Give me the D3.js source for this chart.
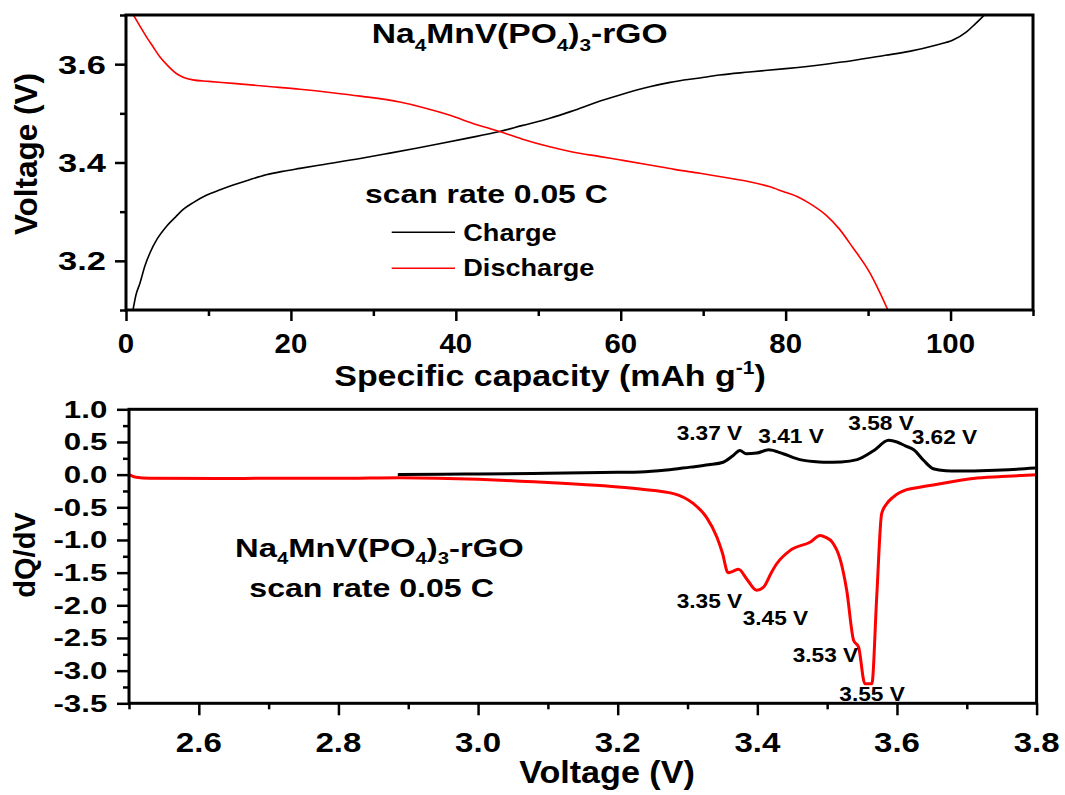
<!DOCTYPE html>
<html>
<head>
<meta charset="utf-8">
<script src="https://cdn.jsdelivr.net/npm/d3@7"></script>
<style>
  html, body { margin: 0; padding: 0; background: #fff; }
  svg { display: block; }
  text { font-family: "Liberation Sans", Arial, sans-serif; font-weight: bold; fill: #000; }
</style>
</head>
<body>
<svg id="chart" width="1065" height="795"></svg>
<script>
// ---- Galvanostatic profile (specific capacity in mAh/g, voltage in V) ----
const chargeCap = [0.85, 1.2, 1.7, 2.3, 2.9, 3.8, 4.9, 6.0, 6.9, 8.2, 9.8, 11.5, 13.0, 15, 17, 19, 21.1, 24, 28.4, 32, 35.2, 38, 41.3, 45.3, 48, 51.4, 54, 57.5, 60, 63.5, 66, 69.6, 72, 75.6, 80, 85.3, 88, 92.1, 95, 98.3, 100.3, 101.9, 103, 104.1];
const chargeV   = [3.100, 3.130, 3.155, 3.190, 3.216, 3.245, 3.270, 3.289, 3.304, 3.319, 3.334, 3.345, 3.354, 3.365, 3.375, 3.382, 3.388, 3.396, 3.408, 3.419, 3.429, 3.438, 3.449, 3.463, 3.475, 3.490, 3.504, 3.525, 3.538, 3.554, 3.563, 3.572, 3.578, 3.584, 3.591, 3.601, 3.607, 3.618, 3.626, 3.639, 3.649, 3.665, 3.682, 3.700];

const dischargeCap = [0.9, 1.6, 2.5, 3.3, 4.1, 5.0, 6.1, 7.0, 8.1, 10, 13, 17, 21.1, 25, 28.4, 33.2, 36, 39.3, 42, 45.3, 48, 51.4, 54, 57.5, 60, 63.5, 66.5, 69.6, 72.5, 75.6, 78, 79.7, 81.5, 82.9, 84.9, 86.5, 88.1, 90.2, 91.3, 92.4];
const dischargeV   = [3.700, 3.680, 3.655, 3.635, 3.615, 3.598, 3.581, 3.573, 3.568, 3.565, 3.561, 3.555, 3.549, 3.542, 3.535, 3.523, 3.512, 3.496, 3.480, 3.463, 3.448, 3.432, 3.422, 3.412, 3.405, 3.395, 3.386, 3.378, 3.370, 3.361, 3.351, 3.341, 3.330, 3.317, 3.293, 3.265, 3.228, 3.176, 3.140, 3.100];

// ---- Differential capacity dQ/dV versus voltage ----
const dqChargeV   = [2.885, 2.95, 3.0, 3.1, 3.2, 3.232, 3.27, 3.304, 3.33, 3.351, 3.365, 3.375, 3.384, 3.399, 3.416, 3.437, 3.461, 3.48, 3.495, 3.52, 3.543, 3.567, 3.588, 3.600, 3.612, 3.624, 3.638, 3.652, 3.67, 3.686, 3.72, 3.76, 3.798];
const dqChargeVal = [0.0, 0.005, 0.01, 0.02, 0.035, 0.04, 0.07, 0.115, 0.15, 0.19, 0.29, 0.37, 0.32, 0.33, 0.38, 0.32, 0.23, 0.2, 0.19, 0.195, 0.23, 0.37, 0.525, 0.50, 0.44, 0.38, 0.22, 0.09, 0.06, 0.055, 0.06, 0.075, 0.10];

const dqDischargeV   = [2.5, 2.51, 2.53, 2.63, 2.7, 2.8, 2.888, 3.0, 3.06, 3.12, 3.18, 3.232, 3.28, 3.308, 3.327, 3.342, 3.35, 3.358, 3.365, 3.373, 3.385, 3.399, 3.409, 3.42, 3.428, 3.447, 3.476, 3.490, 3.498, 3.507, 3.519, 3.528, 3.538, 3.545, 3.554, 3.564, 3.571, 3.578, 3.585, 3.595, 3.614, 3.628, 3.662, 3.709, 3.75, 3.8];
const dqDischargeVal = [0.0, -0.04, -0.055, -0.06, -0.055, -0.055, -0.046, -0.07, -0.1, -0.13, -0.17, -0.22, -0.29, -0.44, -0.65, -0.955, -1.2, -1.5, -1.48, -1.45, -1.6, -1.77, -1.72, -1.5, -1.36, -1.16, -1.03, -0.93, -0.96, -1.03, -1.31, -1.77, -2.54, -2.64, -3.2, -3.2, -1.87, -0.6, -0.45, -0.34, -0.23, -0.2, -0.14, -0.06, -0.03, 0.0];

// ---- Ticks ----
const topXMajor = [0, 20, 40, 60, 80, 100];
const topXMinor = [10, 30, 50, 70, 90, 110];
const topYMajor = [3.2, 3.4, 3.6];
const topYMinor = [3.1, 3.3, 3.5, 3.7];
const botXMajor = [2.6, 2.8, 3.0, 3.2, 3.4, 3.6, 3.8];
const botXMinor = [2.5, 2.7, 2.9, 3.1, 3.3, 3.5, 3.7];
const botYMajor = [-3.5, -3.0, -2.5, -2.0, -1.5, -1.0, -0.5, 0.0, 0.5, 1.0];
const botYMinor = [-3.25, -2.75, -2.25, -1.75, -1.25, -0.75, -0.25, 0.25, 0.75];

// ---- Peak annotations ----
const chargePeaks    = ["3.37 V", "3.41 V", "3.58 V", "3.62 V"];
const dischargePeaks = ["3.35 V", "3.45 V", "3.53 V", "3.55 V"];

const formula = [["Na", "n"], ["4", "sub"], ["MnV(PO", "n"], ["4", "sub"], [")", "n"], ["3", "sub"], ["-rGO", "n"]];

const svg = d3.select("#chart");

// Text helper: rich runs (sub/superscripts) with horizontal scaling
function label(parent, x, y, parts, o) {
  const size = o.size, sx = o.sx || 1;
  let tf = `translate(${x},${y})`;
  if (o.rotate) tf += ` rotate(${o.rotate})`;
  tf += ` scale(${sx},1)`;
  const t = parent.append("g").attr("transform", tf)
    .append("text").attr("text-anchor", o.anchor || "start").attr("font-size", size);
  if (typeof parts === "string") parts = [[parts, "n"]];
  let off = 0;
  parts.forEach(([s, k]) => {
    const target = k === "sub" ? 0.29 * size : k === "sup" ? -0.4 * size : 0;
    t.append("tspan").attr("dy", target - off)
      .attr("font-size", k === "n" ? size : 0.62 * size).text(s);
    off = target;
  });
  return t;
}

function drawTicks(g, axisFn, scale, values, len) {
  g.call(axisFn(scale).tickValues(values).tickSize(len).tickSizeOuter(0).tickFormat(""))
    .call(s => s.select(".domain").remove())
    .call(s => s.selectAll("line").attr("stroke", "#000").attr("stroke-width", 2.5));
}

function frame(x0, x1, y0, y1) {
  svg.append("rect").attr("x", x0).attr("y", y0).attr("width", x1 - x0).attr("height", y1 - y0)
    .attr("fill", "none").attr("stroke", "#000").attr("stroke-width", 3);
}

// ================= Top panel: charge/discharge profile =================
const xTop = d3.scaleLinear().domain([0, 110]).range([126, 1033]);
const yTop = d3.scaleLinear().domain([3.1, 3.7]).range([310, 15]);

svg.append("clipPath").attr("id", "clipTop").append("rect")
  .attr("x", xTop(0)).attr("y", yTop(3.7)).attr("width", xTop(110) - xTop(0)).attr("height", yTop(3.1) - yTop(3.7));

const lineTop = d3.line().x(d => xTop(d[0])).y(d => yTop(d[1])).curve(d3.curveMonotoneX);
const gTop = svg.append("g").attr("clip-path", "url(#clipTop)");
gTop.append("path").datum(d3.zip(chargeCap, chargeV)).attr("d", lineTop)
  .attr("fill", "none").attr("stroke", "#000").attr("stroke-width", 1.6);
gTop.append("path").datum(d3.zip(dischargeCap, dischargeV)).attr("d", lineTop)
  .attr("fill", "none").attr("stroke", "#ff0000").attr("stroke-width", 1.6);

drawTicks(svg.append("g").attr("transform", `translate(0,${yTop(3.1)})`), d3.axisBottom, xTop, topXMajor, 11);
drawTicks(svg.append("g").attr("transform", `translate(0,${yTop(3.1)})`), d3.axisBottom, xTop, topXMinor, 6);
drawTicks(svg.append("g").attr("transform", `translate(${xTop(0)},0)`), d3.axisLeft, yTop, topYMajor, 11);
drawTicks(svg.append("g").attr("transform", `translate(${xTop(0)},0)`), d3.axisLeft, yTop, topYMinor, 6);
frame(xTop(0), xTop(110), yTop(3.7), yTop(3.1));

topXMajor.forEach(v => label(svg, xTop(v), 353, String(v), { size: 28, sx: 1.05, anchor: "middle" }));
topYMajor.forEach(v => label(svg, 106, yTop(v) + 9.5, v.toFixed(1), { size: 26.5, sx: 1.3, anchor: "end" }));

label(svg, 550, 386, [["Specific capacity (mAh g", "n"], ["-1", "sup"], [")", "n"]], { size: 29, sx: 1.17, anchor: "middle" });
label(svg, 37, 154, "Voltage (V)", { size: 31.5, anchor: "middle", rotate: -90 });
label(svg, 371.7, 43.3, formula, { size: 28, sx: 1.2 });

// Legend
label(svg, 365, 203.3, "scan rate 0.05 C", { size: 25.5, sx: 1.25 });
const legend = [["Charge", "#000", 232.3, 240.7], ["Discharge", "#ff0000", 268.3, 276.4]];
legend.forEach(([name, col, ly, ty]) => {
  svg.append("line").attr("x1", 391.7).attr("x2", 455).attr("y1", ly).attr("y2", ly)
    .attr("stroke", col).attr("stroke-width", 1.6);
  label(svg, 463.3, ty, name, { size: 24, sx: 1.13 });
});

// ================= Bottom panel: dQ/dV =================
const xBot = d3.scaleLinear().domain([2.5, 3.8]).range([129, 1036.6]);
const yBot = d3.scaleLinear().domain([-3.5, 1.0]).range([703.3, 409.3]);

svg.append("clipPath").attr("id", "clipBot").append("rect")
  .attr("x", xBot(2.5)).attr("y", yBot(1.0)).attr("width", xBot(3.8) - xBot(2.5)).attr("height", yBot(-3.5) - yBot(1.0));

const lineBot = d3.line().x(d => xBot(d[0])).y(d => yBot(d[1])).curve(d3.curveMonotoneX);
const gBot = svg.append("g").attr("clip-path", "url(#clipBot)");
gBot.append("path").datum(d3.zip(dqChargeV, dqChargeVal)).attr("d", lineBot)
  .attr("fill", "none").attr("stroke", "#000").attr("stroke-width", 3).attr("stroke-linejoin", "round");
gBot.append("path").datum(d3.zip(dqDischargeV, dqDischargeVal)).attr("d", lineBot)
  .attr("fill", "none").attr("stroke", "#ff0000").attr("stroke-width", 3).attr("stroke-linejoin", "round");

drawTicks(svg.append("g").attr("transform", `translate(0,${yBot(-3.5)})`), d3.axisBottom, xBot, botXMajor, 12);
drawTicks(svg.append("g").attr("transform", `translate(0,${yBot(-3.5)})`), d3.axisBottom, xBot, botXMinor, 6);
drawTicks(svg.append("g").attr("transform", `translate(${xBot(2.5)},0)`), d3.axisLeft, yBot, botYMajor, 12);
drawTicks(svg.append("g").attr("transform", `translate(${xBot(2.5)},0)`), d3.axisLeft, yBot, botYMinor, 6);
frame(xBot(2.5), xBot(3.8), yBot(1.0), yBot(-3.5));

botXMajor.forEach(v => label(svg, xBot(v), 751.7, v.toFixed(1), { size: 28, sx: 1.18, anchor: "middle" }));
botYMajor.forEach(v => label(svg, 107.3, yBot(v) + 8.5, v.toFixed(1), { size: 23.5, sx: 1.33, anchor: "end" }));

label(svg, 607, 783, "Voltage (V)", { size: 31, sx: 1.1, anchor: "middle" });
label(svg, 35, 555, "dQ/dV", { size: 29, anchor: "middle", rotate: -90 });

label(svg, 235, 556.7, formula, { size: 25.6, sx: 1.28 });
label(svg, 249.3, 596.7, "scan rate 0.05 C", { size: 25.6, sx: 1.255 });

// Peak annotations
const chargePeakPos    = [[676.7, 440], [758.3, 443.3], [848.3, 430], [911.7, 444]];
const dischargePeakPos = [[676.7, 608.3], [742.7, 625], [792.7, 661.7], [839.3, 700.7]];
chargePeaks.forEach((s, i) => label(svg, chargePeakPos[i][0], chargePeakPos[i][1], s, { size: 21, sx: 1.08 }));
dischargePeaks.forEach((s, i) => label(svg, dischargePeakPos[i][0], dischargePeakPos[i][1], s, { size: 21, sx: 1.08 }));
</script>
</body>
</html>
